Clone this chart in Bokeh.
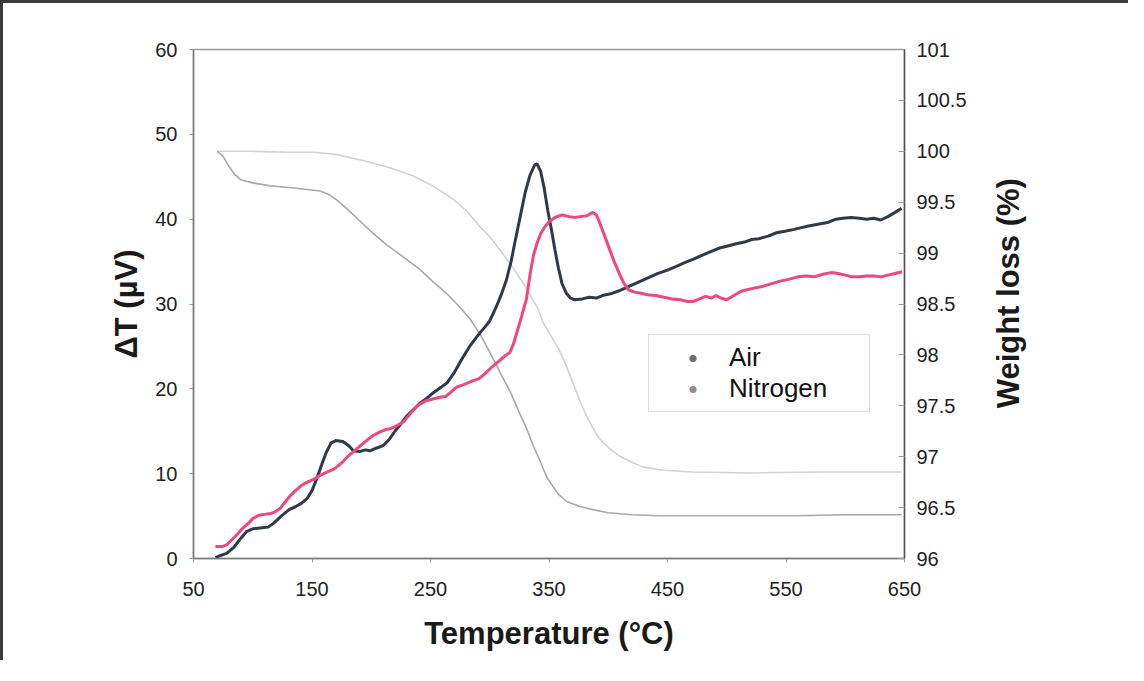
import math
from bokeh.plotting import figure
from bokeh.layouts import row
from bokeh.models import Range1d, LinearAxis, Legend, LegendItem, FixedTicker, Label
from bokeh.embed import file_html
from bokeh.resources import INLINE

# ---- DTA, Air (left axis, µV) ----
air_t = [68.5, 72, 78, 84, 90, 95, 100, 106, 113, 118, 124, 131, 136, 141, 146, 150, 154, 158, 162, 166,
         170, 176, 181, 185, 190, 195, 199, 204, 210, 215, 220, 224, 230, 236, 241, 247, 252, 258, 264, 270,
         276, 283, 290, 296, 300, 305, 310, 314, 318, 322, 326, 330, 334, 338, 340, 343, 346, 349, 352, 355,
         358, 361, 364.5, 368, 372, 378, 384, 390, 395, 402, 410, 418, 426, 434, 442, 450, 457, 465, 472, 480,
         487, 494, 500, 508, 515, 521, 527, 535, 542, 550, 557, 563, 569, 577, 585, 592, 598, 605, 612, 618,
         624, 630, 636, 642, 647.5]
air_dt = [0.1, 0.3, 0.6, 1.3, 2.4, 3.2, 3.5, 3.6, 3.7, 4.2, 5.0, 5.8, 6.1, 6.5, 7.1, 8.0, 9.4, 11.0, 12.5, 13.6,
          13.9, 13.8, 13.3, 12.7, 12.6, 12.8, 12.7, 13.0, 13.3, 14.0, 15.0, 15.7, 16.8, 17.6, 18.3, 18.9, 19.5, 20.1, 20.7, 21.9,
          23.4, 25.0, 26.3, 27.3, 28.0, 29.5, 31.2, 32.8, 35.0, 37.8, 40.5, 43.2, 45.2, 46.4, 46.5, 45.6, 43.6, 41.0, 38.8, 36.4,
          34.2, 32.4, 31.3, 30.7, 30.5, 30.6, 30.8, 30.7, 31.0, 31.2, 31.6, 32.1, 32.6, 33.1, 33.6, 34.0, 34.4, 34.9, 35.3, 35.8,
          36.2, 36.6, 36.8, 37.1, 37.3, 37.6, 37.7, 38.0, 38.4, 38.6, 38.8, 39.0, 39.2, 39.4, 39.6, 40.0, 40.1, 40.2, 40.1, 40.0,
          40.1, 39.9, 40.3, 40.8, 41.3]

# ---- DTA, Nitrogen (left axis, µV) ----
n2_t = [68.5, 74, 78, 83, 88, 91, 96, 100, 105, 110, 115, 119, 123, 127, 131, 136, 141, 146, 151, 157,
        163, 168, 171, 176, 180, 185, 190, 196, 201.5, 207, 212, 216, 221, 227, 232, 236, 241, 246, 252, 258,
        263, 268, 272, 278, 285, 291, 296, 302, 308, 313, 317, 320, 323, 327, 331, 334, 337, 340, 343, 346,
        350, 355, 361, 367, 372, 376, 382, 387, 390, 393, 397, 401, 405, 409, 413, 417, 422, 427, 433, 440,
        447, 454, 461, 467, 472, 477, 482, 487, 491, 495, 500, 506, 512, 518, 524, 531, 538, 545, 552, 560,
        567, 574, 581, 588, 594, 600, 606, 612, 618, 624, 630, 636, 642, 648]
n2_dt = [1.4, 1.4, 1.6, 2.3, 3.0, 3.5, 4.1, 4.7, 5.1, 5.2, 5.3, 5.5, 5.9, 6.6, 7.3, 8.0, 8.6, 9.0, 9.3, 9.8,
         10.2, 10.5, 10.8, 11.4, 12.0, 12.6, 13.2, 13.9, 14.5, 14.9, 15.2, 15.3, 15.6, 16.1, 16.9, 17.6, 18.2, 18.6, 18.8, 19.0,
         19.1, 19.7, 20.2, 20.5, 20.9, 21.2, 21.8, 22.6, 23.3, 23.9, 24.3, 25.3, 26.7, 28.6, 30.6, 33.5, 35.8, 37.2, 38.3, 39.0,
         39.7, 40.2, 40.5, 40.3, 40.2, 40.3, 40.4, 40.8, 40.5, 39.5, 38.0, 36.5, 35.0, 33.7, 32.5, 31.7, 31.4, 31.3, 31.1, 31.0,
         30.8, 30.6, 30.5, 30.3, 30.3, 30.6, 30.9, 30.7, 31.0, 30.7, 30.5, 31.0, 31.5, 31.7, 31.9, 32.1, 32.4, 32.7, 32.9, 33.2,
         33.3, 33.2, 33.5, 33.7, 33.6, 33.4, 33.2, 33.2, 33.3, 33.3, 33.2, 33.4, 33.6, 33.8]

# ---- TG, Air (right axis, %) ----
tg_air_t = [70, 75, 80, 85, 90, 100, 115, 135, 157, 165, 171, 180, 190, 200, 213, 225, 241, 252, 263, 273,
            283, 293, 302, 310, 318, 325, 331, 337, 342, 348, 352, 358, 365, 376, 387, 400, 420, 443, 500, 560,
            600, 647.5]
tg_air_w = [100.0, 99.95, 99.85, 99.77, 99.72, 99.69, 99.66, 99.64, 99.61, 99.57, 99.52, 99.43, 99.32, 99.21, 99.08,
            98.98, 98.84, 98.72, 98.61, 98.49, 98.36, 98.18, 97.98, 97.80, 97.62, 97.43, 97.28, 97.10, 96.97, 96.80,
            96.73, 96.63, 96.56, 96.51, 96.48, 96.45, 96.43, 96.42, 96.42, 96.42, 96.43, 96.43]

# ---- TG, Nitrogen (right axis, %) ----
tg_n2_t = [70, 100, 130, 151, 170, 193, 215, 235, 252, 269, 280, 291, 300, 308, 320, 331, 340, 345, 352, 359,
           365, 371, 376, 382, 388, 393, 400, 409, 419, 429, 445, 471, 520, 580, 647.5]
tg_n2_w = [100.0, 100.0, 99.99, 99.99, 99.97, 99.91, 99.84, 99.76, 99.66, 99.53, 99.42, 99.27, 99.16, 99.04, 98.85,
           98.65, 98.47, 98.32, 98.18, 98.04, 97.88, 97.70, 97.55, 97.39, 97.26, 97.17, 97.09, 97.01, 96.95, 96.90,
           96.87, 96.85, 96.84, 96.85, 96.85]

x_ticks = [50, 150, 250, 350, 450, 550, 650]
left_ticks = [0, 10, 20, 30, 40, 50, 60]
right_ticks = [96, 96.5, 97, 97.5, 98, 98.5, 99, 99.5, 100, 100.5, 101]
series_names = ["Air", "Nitrogen"]
right_title = "Weight loss (%)"

AIR_C = "#2e3a4c"
N2_C = "#f0477e"
FONT = "Liberation Sans"
TITLE_SIZE = "31px"
FRAME_BORDER = "3px solid #3a3a3a"

p = figure(width=985, height=660, output_backend="svg", toolbar_location=None,
           x_range=Range1d(50, 650), y_range=Range1d(0, 60),
           min_border_left=190, min_border_right=84, min_border_top=46, min_border_bottom=105)
p.extra_y_ranges = {"wt": Range1d(96, 101)}
p.grid.visible = False
p.outline_line_color = "#9a9a9a"
p.outline_line_width = 1.5
p.background_fill_color = "white"
p.border_fill_color = "white"
p.styles = {"border-top": FRAME_BORDER, "border-left": FRAME_BORDER}

# TG curves (light gray)
p.line(tg_n2_t, tg_n2_w, y_range_name="wt", line_color="#d2d2d2", line_width=1.6)
p.line(tg_air_t, tg_air_w, y_range_name="wt", line_color="#a9a9a9", line_width=1.6)
# DTA curves
r_air = p.line(air_t, air_dt, line_color=AIR_C, line_width=3)
r_n2 = p.line(n2_t, n2_dt, line_color=N2_C, line_width=3)

# legend markers (tiny dots, as in reference), placed outside the visible range
m_air = p.scatter([-1000], [-1000], size=4, fill_color="#6e6e6e", line_color=None)
m_n2 = p.scatter([-1000], [-1000], size=4, fill_color="#a08890", line_color=None)

def style_axis(ax, ticks):
    ax.ticker = FixedTicker(ticks=ticks)
    ax.major_label_text_font = FONT
    ax.major_label_text_font_size = "20px"
    ax.major_label_text_color = "#222222"
    ax.axis_label_text_font = FONT
    ax.axis_label_text_font_size = TITLE_SIZE
    ax.axis_label_text_font_style = "bold"
    ax.axis_label_text_color = "#1a1a1a"
    ax.minor_tick_line_color = None
    ax.axis_line_color = "#7a7a7a"
    ax.axis_line_width = 1.5
    ax.major_tick_line_color = "#9a9a9a"

xa = p.xaxis[0]
style_axis(xa, x_ticks)
xa.axis_label = "Temperature (°C)"
xa.major_tick_in = 0
xa.major_tick_out = 4
xa.major_label_standoff = 19
xa.axis_label_standoff = 17

ya = p.yaxis[0]
style_axis(ya, left_ticks)
ya.axis_label = "ΔT (µV)"
ya.major_tick_in = 0
ya.major_tick_out = 4
ya.major_label_standoff = 12
ya.axis_label_standoff = 8

ra = LinearAxis(y_range_name="wt")
style_axis(ra, right_ticks)
ra.major_tick_in = 6
ra.major_tick_out = 0
ra.major_label_standoff = 12
ra.axis_line_color = "#555555"
p.add_layout(ra, "right")

legend = Legend(items=[LegendItem(label=series_names[0], renderers=[m_air]),
                       LegendItem(label=series_names[1], renderers=[m_n2])],
                location=(455, 146))
legend.label_text_font = FONT
legend.label_text_font_size = "26px"
legend.label_text_color = "#111111"
legend.border_line_color = "#c4c4c4"
legend.border_line_width = 1.5
legend.background_fill_alpha = 1
legend.padding = 7
legend.glyph_width = 73
legend.glyph_height = 18
legend.label_height = 18
legend.label_width = 133
legend.label_standoff = 0
legend.spacing = 0
legend.margin = 0
p.add_layout(legend, "center")

# narrow companion panel holding the right-hand axis title (reads bottom-to-top)
p2 = figure(width=143, height=660, output_backend="svg", toolbar_location=None,
            x_range=Range1d(0, 143), y_range=Range1d(0, 660),
            x_axis_location=None, y_axis_location=None, min_border=0)
p2.grid.visible = False
p2.outline_line_color = None
p2.background_fill_color = "white"
p2.border_fill_color = "white"
p2.styles = {"border-top": FRAME_BORDER}
p2.add_layout(Label(x=23, y=344, text=right_title, angle=math.pi / 2,
                    text_align="center", text_baseline="middle",
                    text_font=FONT, text_font_size=TITLE_SIZE, text_font_style="bold",
                    text_color="#1a1a1a"))

layout = row(p, p2)
open("out.html", "w").write(file_html(layout, INLINE))
